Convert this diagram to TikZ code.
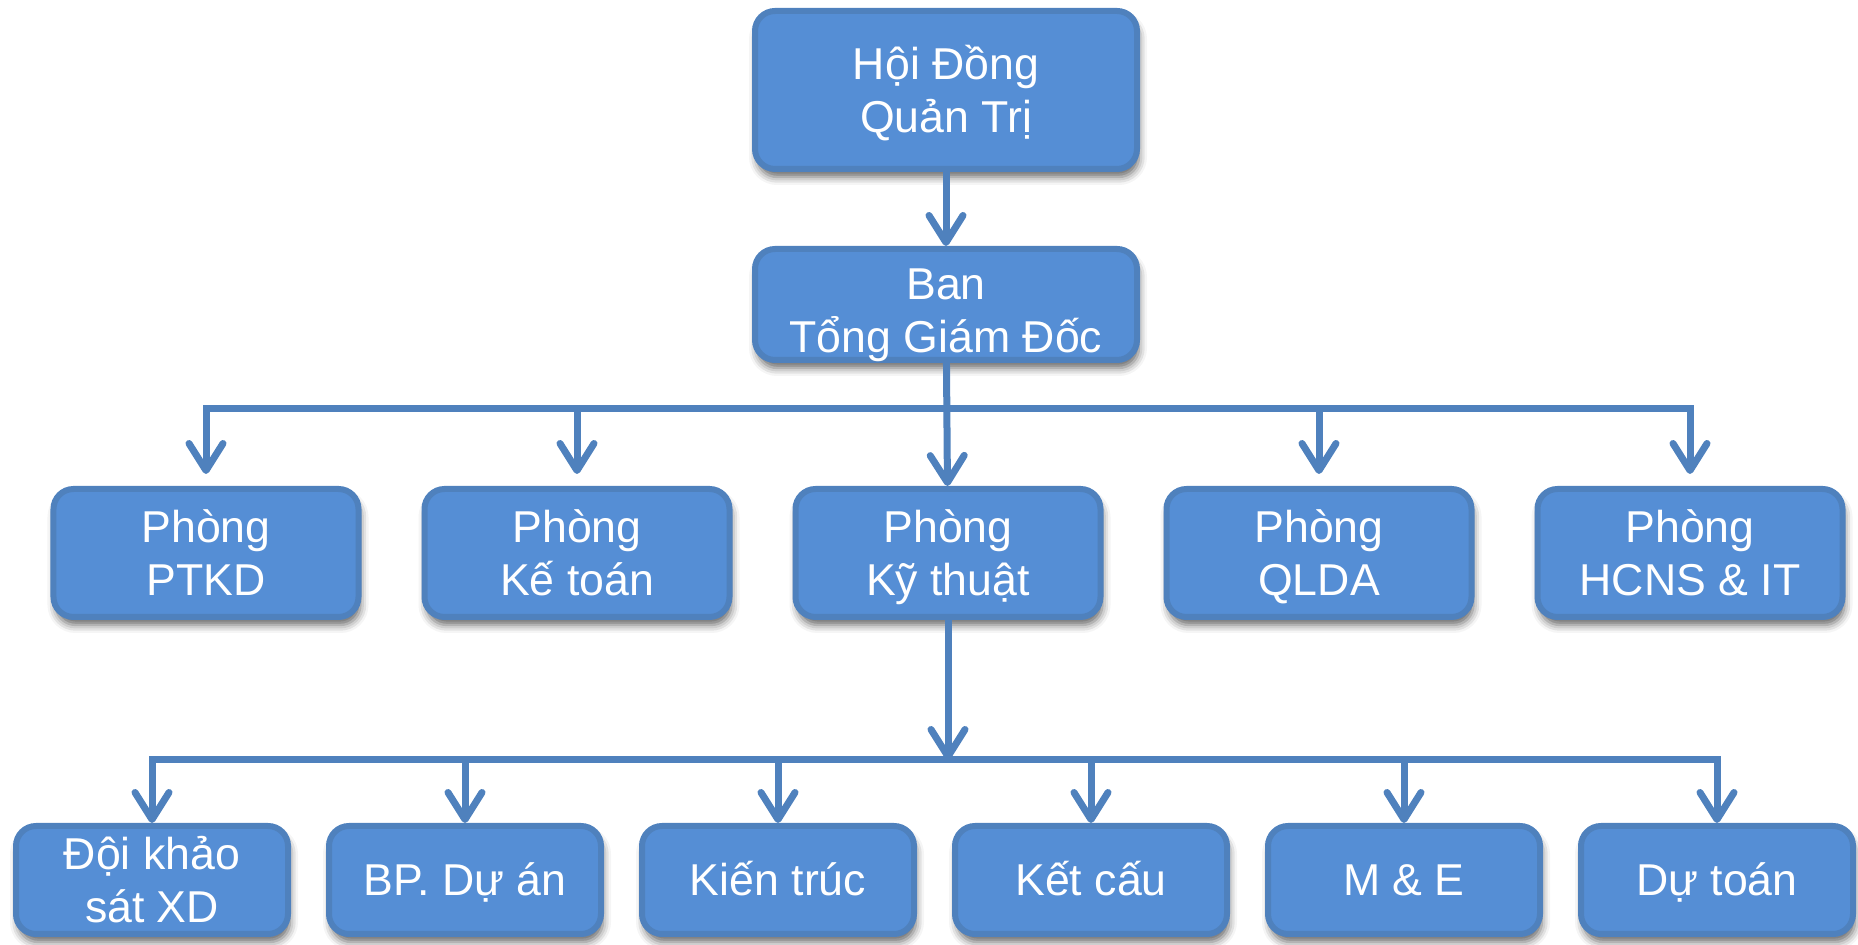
\documentclass[tikz,border=0pt]{standalone}
\usepackage{fontspec}
\setmainfont{Liberation Sans}
\usetikzlibrary{arrows.meta,shadows.blur}
\definecolor{boxfill}{RGB}{85,142,213}
\definecolor{boxline}{RGB}{79,129,189}

\begin{document}
\begin{tikzpicture}[
	box/.style={draw=boxline, line width=0.06cm, fill=boxfill, rounded corners=0.2cm,
		text=white, align=center, font=\fontsize{12.7}{15.1}\selectfont,
		text height=0.32cm, text depth=0pt, inner sep=0pt,
		blur shadow={shadow xshift=0.02cm, shadow yshift=-0.08cm, shadow blur radius=0.08cm, shadow opacity=60}},
	dept/.style={box, minimum width=3.05cm, minimum height=1.28cm, text height=0.85cm},
	team/.style={box, minimum width=2.72cm, minimum height=1.08cm},
	link/.style={draw=boxline, line width=0.07cm},
	arr/.style={link, -{Straight Barb[length=0.27cm, width=0.34cm, round]}}
]
\useasboundingbox (0,0) rectangle (18.58,-9.45);

\node (hdqt) at (9.46,-0.90) [box, minimum width=3.82cm, minimum height=1.58cm, text height=0.85cm] {Hội Đồng\\Quản Trị};
\node (ban) at (9.46,-3.045) [box, minimum width=3.82cm, minimum height=1.11cm, text height=0.97cm] {Ban\\Tổng Giám Đốc};

\foreach \n/\t [count=\i from 0] in {ptkd/PTKD, ketoan/Kế toán, kythuat/Kỹ thuật, qlda/QLDA, hcns/HCNS \& IT}
	\node (\n) at (2.06+3.71*\i,-5.53) [dept] {Phòng\\\t};

\foreach \n/\t/\h [count=\i from 0] in {doi/Đội khảo\\sát XD/0.85, duan/BP. Dự án/0.32, kientruc/Kiến trúc/0.32, ketcau/Kết cấu/0.32, me/M \& E/0.32, dutoan/Dự toán/0.32}
	\node (\n) at (1.52+3.13*\i,-8.80) [team, text height=\h cm] {\t};

\coordinate (bus1) at (0,-4.09);
\coordinate (bus2) at (0,-7.60);

\draw[arr] (hdqt) -- (ban);
\draw[arr] (ban) -- (kythuat);
\foreach \n in {ptkd,ketoan,qlda,hcns}
	\draw[arr, shorten >=0.12cm] (ban.south |- bus1) -| (\n.north);

\draw[arr] (kythuat) -- (kythuat.south |- bus2);
\foreach \n in {doi,duan,kientruc,ketcau,me,dutoan}
	\draw[arr] (kythuat.south |- bus2) -| (\n.north);
\end{tikzpicture}
\end{document}
